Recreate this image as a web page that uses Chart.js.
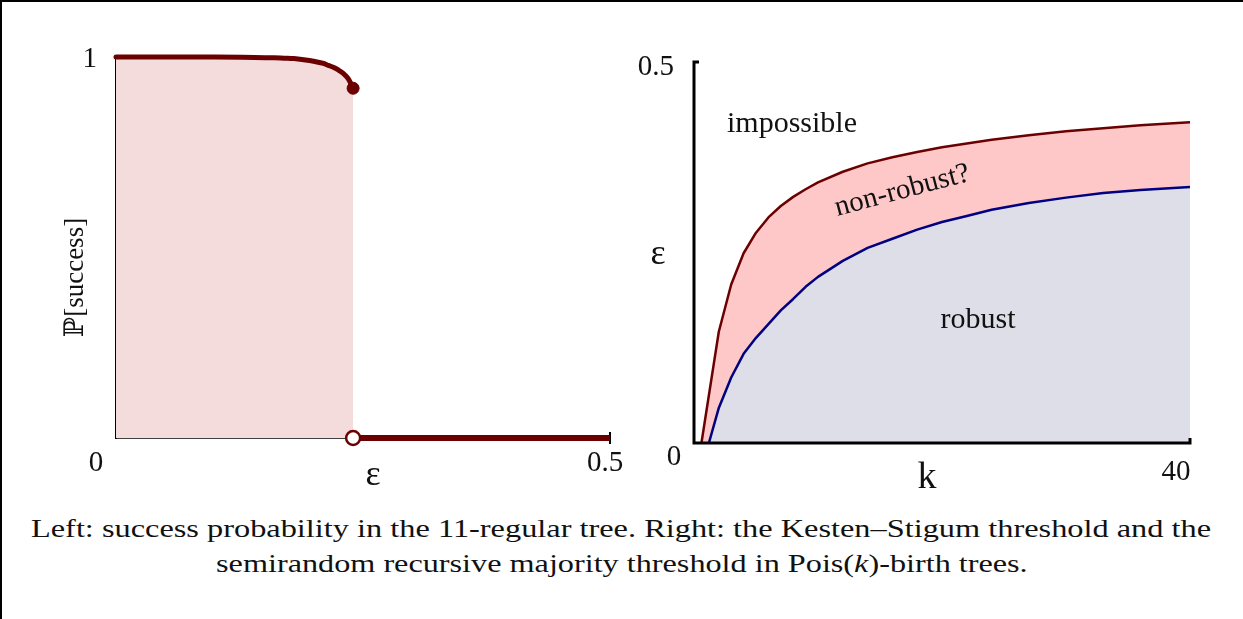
<!DOCTYPE html>
<html>
<head>
<meta charset="utf-8">
<script src="https://cdn.jsdelivr.net/npm/chart.js@4.4.1/dist/chart.umd.min.js"></script>
<style>
  body { margin: 0; background: #fff; }
  #page { position: relative; width: 1243px; height: 619px; overflow: hidden; background: #fff; }
  #frameTop { position: absolute; left: 0; top: 0; width: 1243px; height: 2px; background: #000; }
  #frameLeft { position: absolute; left: 0; top: 0; width: 2px; height: 619px; background: #000; }
  canvas { position: absolute; top: 0; }
  #leftChart { left: 0; }
  #rightChart { left: 600px; }
  .cap { position: absolute; left: 0; width: 1243px; text-align: center; font-family: 'Liberation Serif', serif; font-size: 25px; color: #111; white-space: nowrap; }
  .cap span { display: inline-block; transform-origin: center; }
</style>
</head>
<body>
<div id="page">
  <div id="frameTop"></div>
  <div id="frameLeft"></div>
  <canvas id="leftChart" width="660" height="500"></canvas>
  <canvas id="rightChart" width="643" height="500"></canvas>
  <div class="cap" style="top:515px"><span id="cap1">Left: success probability in the 11-regular tree. Right: the Kesten–Stigum threshold and the</span></div>
  <div class="cap" style="top:550px"><span id="cap2">semirandom recursive majority threshold in Pois(<i>k</i>)-birth trees.</span></div>
</div>
<script>
// left panel: success probability vs noise eps
const epsVals  = [0, 0.10, 0.14, 0.16, 0.17, 0.18, 0.19, 0.20, 0.21, 0.215, 0.22, 0.225, 0.23, 0.235, 0.240];
const probVals = [1, 1, 0.999, 0.998, 0.997, 0.996, 0.993, 0.989, 0.983, 0.978, 0.973, 0.966, 0.957, 0.943, 0.918];
const dropEps = 0.24;
const dropTop = 0.918;
const leftXTicks = ['0', '0.5'];
const leftYTicks = ['1'];

// right panel: thresholds in Pois(k) trees
const kRed  = [0.6, 2, 3, 4, 5, 6, 7, 8, 9, 10, 12, 14, 16, 18, 20, 22, 24, 27, 30, 33, 36, 40];
const ksEps = [0, 0.146, 0.208, 0.249, 0.276, 0.296, 0.311, 0.323, 0.333, 0.342, 0.356, 0.367, 0.375, 0.382, 0.388, 0.393, 0.398, 0.404, 0.409, 0.413, 0.417, 0.421];
const kBlue  = [1.2, 2, 3, 4, 5, 6, 7, 8, 9, 10, 12, 14, 16, 18, 20, 22, 24, 27, 30, 33, 36, 40];
const majEps = [0, 0.046, 0.086, 0.117, 0.138, 0.156, 0.174, 0.189, 0.205, 0.218, 0.239, 0.256, 0.268, 0.280, 0.290, 0.298, 0.306, 0.315, 0.322, 0.328, 0.332, 0.336];
const rightXTicks = ['0', '40'];
const rightYTicks = ['0.5'];

const darkRed = '#6b0000';
const navy = '#000080';
const serif = "'Liberation Serif', 'DejaVu Serif', serif";

function pts(xs, ys) {
    return xs.map((x, i) => ({ x: x, y: ys[i] }));
}

function txt(ctx, s, x, y, size, align, rot) {
    ctx.save();
    ctx.font = size + 'px ' + serif;
    ctx.fillStyle = '#111';
    ctx.textAlign = align || 'center';
    ctx.textBaseline = 'middle';
    ctx.translate(x, y);
    if (rot) ctx.rotate(rot);
    ctx.fillText(s, 0, 0);
    ctx.restore();
}

// axes + labels for the left panel
const leftAxes = {
    id: 'leftAxes',
    beforeDatasetsDraw(chart) {
        const ctx = chart.ctx;
        const xs = chart.scales.x, ys = chart.scales.y;
        const x0 = xs.getPixelForValue(0), y0 = ys.getPixelForValue(0);
        ctx.save();
        ctx.strokeStyle = '#000';
        ctx.lineWidth = 2;
        ctx.beginPath();
        ctx.moveTo(x0, ys.getPixelForValue(1) - 1);
        ctx.lineTo(x0, y0 + 1);
        ctx.stroke();
        ctx.lineWidth = 1.5;
        ctx.beginPath();
        ctx.moveTo(x0, y0);
        ctx.lineTo(xs.getPixelForValue(dropEps), y0);
        ctx.stroke();
        const xe = xs.getPixelForValue(0.5);
        ctx.lineWidth = 2;
        ctx.beginPath();
        ctx.moveTo(xe, y0 - 6);
        ctx.lineTo(xe, y0 + 6);
        ctx.stroke();
        ctx.restore();
    },
    afterDraw(chart) {
        const ctx = chart.ctx;
        const xs = chart.scales.x, ys = chart.scales.y;
        txt(ctx, leftXTicks[0], xs.getPixelForValue(0) - 20, ys.getPixelForValue(0) + 25, 29);
        txt(ctx, leftXTicks[1], xs.getPixelForValue(0.5) - 5, ys.getPixelForValue(0) + 25, 29);
        txt(ctx, leftYTicks[0], xs.getPixelForValue(0) - 19, ys.getPixelForValue(1) + 2, 29, 'right');
        txt(ctx, 'ε', xs.getPixelForValue(dropEps) + 20, ys.getPixelForValue(0) + 38, 36);
        txt(ctx, 'ℙ[success]', 76, (chart.chartArea.top + chart.chartArea.bottom) / 2 + 30, 27, 'center', -Math.PI / 2);
    }
};

// chart.js paints the last dataset first, so the top marks come first here
new Chart(document.getElementById('leftChart'), {
    type: 'scatter',
    data: {
        datasets: [
            {
                data: [{ x: dropEps, y: 0 }],
                pointRadius: 7,
                pointBorderWidth: 2.5,
                pointBackgroundColor: '#fff',
                pointBorderColor: darkRed,
                clip: false
            },
            {
                data: [{ x: dropEps, y: 0 }, { x: 0.5, y: 0 }],
                showLine: true,
                borderColor: darkRed,
                borderWidth: 6,
                pointRadius: 0,
                clip: false
            },
            {
                data: [{ x: dropEps, y: dropTop }],
                pointRadius: 6,
                pointBackgroundColor: darkRed,
                pointBorderColor: darkRed,
                clip: false
            },
            {
                data: pts(epsVals, probVals),
                showLine: true,
                borderColor: darkRed,
                borderWidth: 5,
                borderCapStyle: 'round',
                borderJoinStyle: 'round',
                pointRadius: 0,
                cubicInterpolationMode: 'monotone',
                fill: 'origin',
                backgroundColor: '#f5dcdc',
                clip: false
            }
        ]
    },
    options: {
        responsive: false,
        animation: false,
        devicePixelRatio: 1,
        layout: { padding: { left: 116, right: 50, top: 57, bottom: 62 } },
        plugins: { legend: { display: false }, tooltip: { enabled: false } },
        scales: {
            x: { type: 'linear', min: 0, max: 0.5, display: false },
            y: { type: 'linear', min: 0, max: 1, display: false }
        }
    },
    plugins: [leftAxes]
});

// axes + labels for the right panel
const rightAxes = {
    id: 'rightAxes',
    afterDatasetsDraw(chart) {
        const ctx = chart.ctx;
        const xs = chart.scales.x, ys = chart.scales.y;
        const x0 = xs.getPixelForValue(0), y0 = ys.getPixelForValue(0);
        const x1 = xs.getPixelForValue(40), y1 = ys.getPixelForValue(0.5);
        ctx.save();
        ctx.strokeStyle = '#000';
        ctx.lineWidth = 3;
        ctx.beginPath();
        ctx.moveTo(x0 + 5, y1);
        ctx.lineTo(x0, y1);
        ctx.lineTo(x0, y0);
        ctx.lineTo(x1, y0);
        ctx.lineTo(x1, y0 - 5);
        ctx.stroke();
        ctx.restore();
        txt(ctx, rightYTicks[0], x0 - 20, y1 + 5, 29, 'right');
        txt(ctx, rightXTicks[0], x0 - 20, y0 + 14, 29);
        txt(ctx, rightXTicks[1], x1 - 14, y0 + 29, 29);
        txt(ctx, 'k', xs.getPixelForValue(18.8), y0 + 35, 38);
        txt(ctx, 'ε', x0 - 36, ys.getPixelForValue(0.247), 36);
        txt(ctx, 'impossible', xs.getPixelForValue(7.9), ys.getPixelForValue(0.418), 30);
        txt(ctx, 'non-robust?', xs.getPixelForValue(16.8), ys.getPixelForValue(0.331), 29, 'center', -0.26);
        txt(ctx, 'robust', xs.getPixelForValue(22.9), ys.getPixelForValue(0.161), 30);
    }
};

new Chart(document.getElementById('rightChart'), {
    type: 'scatter',
    data: {
        datasets: [
            {
                data: pts(kBlue, majEps),
                showLine: true,
                borderColor: navy,
                borderWidth: 2.5,
                borderJoinStyle: 'round',
                pointRadius: 0,
                tension: 0,
                fill: 'origin',
                backgroundColor: '#dedee8'
            },
            {
                data: pts(kRed, ksEps),
                showLine: true,
                borderColor: darkRed,
                borderWidth: 2.5,
                borderJoinStyle: 'round',
                pointRadius: 0,
                tension: 0,
                fill: 'origin',
                backgroundColor: '#ffc8c8'
            }
        ]
    },
    options: {
        responsive: false,
        animation: false,
        devicePixelRatio: 1,
        layout: { padding: { left: 94, right: 53, top: 62, bottom: 57 } },
        plugins: { legend: { display: false }, tooltip: { enabled: false } },
        scales: {
            x: { type: 'linear', min: 0, max: 40, display: false },
            y: { type: 'linear', min: 0, max: 0.5, display: false }
        }
    },
    plugins: [rightAxes]
});

// stretch caption lines to the width of the reference
function fitCaption(id, width) {
    const el = document.getElementById(id);
    el.style.transform = 'scaleX(' + (width / el.offsetWidth) + ')';
}
fitCaption('cap1', 1180);
fitCaption('cap2', 812);
</script>
</body>
</html>
